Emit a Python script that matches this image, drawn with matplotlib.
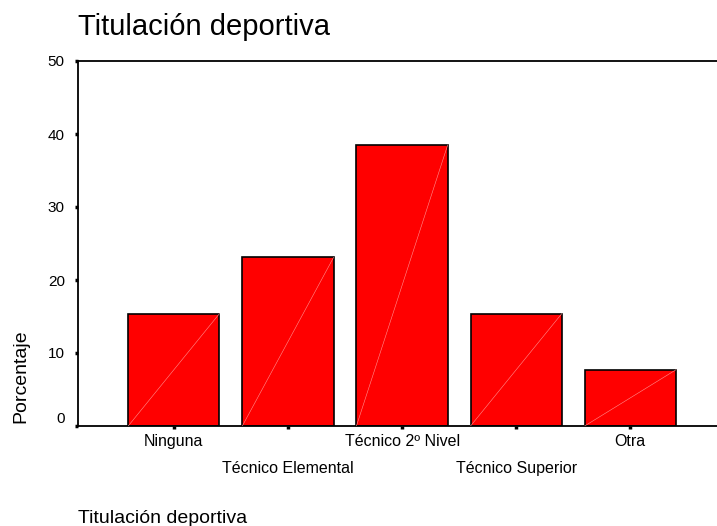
import numpy as np
import matplotlib
matplotlib.use("Agg")
import matplotlib.pyplot as plt

plt.rcParams['font.family'] = ['Liberation Sans', 'DejaVu Sans']

# datos (porcentaje por titulacion)
categorias = ["Ninguna", "Técnico Elemental", "Técnico 2º Nivel", "Técnico Superior", "Otra"]
porcentaje = [15.4, 23.1, 38.5, 15.4, 7.7]
yticks = [0, 10, 20, 30, 40, 50]

fig = plt.figure(figsize=(7.17, 5.26), dpi=100)
ax = fig.add_axes([78/717, 1-426/526, (717-78)/717, (426-61)/526])

x = np.arange(len(categorias))
ancho = 0.8
barras = ax.bar(x, porcentaje, width=ancho, color='#ff0000', edgecolor='black', linewidth=1.2, zorder=2)

# linea diagonal tenue dentro de cada barra (artefacto del original)
for b in barras:
    x0 = b.get_x()
    ax.plot([x0, x0 + b.get_width()], [0, b.get_height()], color='#ff9090', lw=0.4, zorder=3)

ax.set_xlim(-0.84, 4.76)
ax.set_ylim(0, 50)
ax.set_yticks(yticks)
# etiquetas alternadas en dos filas: pares como mayores, impares como menores
ax.set_xticks(x[0::2])
ax.set_xticklabels(categorias[0::2])
ax.set_xticks(x[1::2], minor=True)
ax.set_xticklabels(categorias[1::2], minor=True)
ax.tick_params(axis='both', which='both', length=2.5, width=2.5, labelsize=11.5, direction='out')
ax.tick_params(axis='y', labelsize=11, pad=7)
ax.tick_params(axis='x', which='major', pad=3.5)
ax.tick_params(axis='x', which='minor', pad=23)
# el 0 queda por encima del eje, como en el original
ax.get_yticklabels()[0].set_va('bottom')

ax.spines['right'].set_visible(False)
for s in ['left', 'top', 'bottom']:
    ax.spines[s].set_linewidth(1.3)

fig.text(78/717, 1-35/526, "Titulación deportiva", fontsize=21, va='baseline', ha='left')
fig.text(21/717, 1-376/526, "Porcentaje", fontsize=14, rotation=90, va='center', ha='center')
fig.text(78/717, 1-523/526, "Titulación deportiva", fontsize=14, va='baseline', ha='left')

fig.savefig("out.png", dpi=100)
